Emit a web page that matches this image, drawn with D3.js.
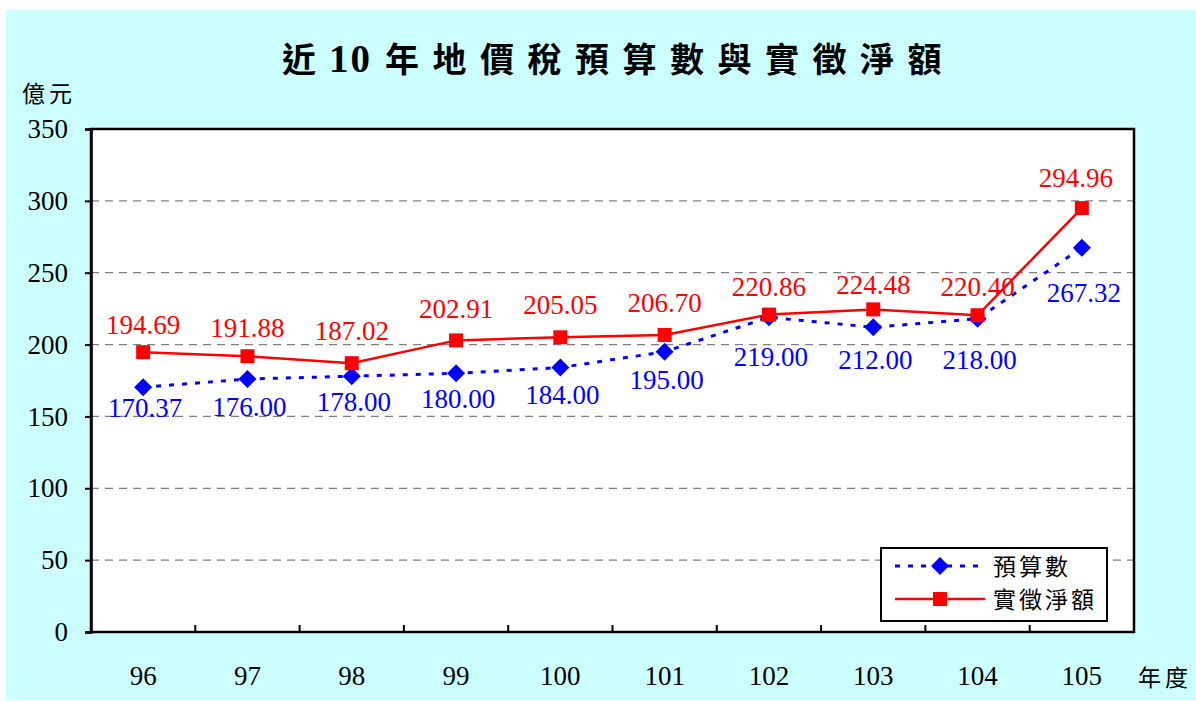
<!DOCTYPE html>
<html><head><meta charset="utf-8">
<script src="https://cdn.jsdelivr.net/npm/d3@7"></script>
<style>html,body{margin:0;padding:0;background:#fff;}svg{display:block;}</style>
</head><body>
<svg id="c" width="1196" height="702"></svg>
<script>
const years = ["96","97","98","99","100","101","102","103","104","105"];
const budget = [170.37,176.00,178.00,180.00,184.00,195.00,219.00,212.00,218.00,267.32];
const actual = [194.69,191.88,187.02,202.91,205.05,206.70,220.86,224.48,220.40,294.96];
const yTicks = [0,50,100,150,200,250,300,350];
const seriesNames = ["預算數","實徵淨額"];
const titleParts = ["近", "10", "年地價稅預算數與實徵淨額"];

// label layout (vertical offsets of label centres from markers, px)
const budgetLabelDy = [21,28,26,26,28,28,40,33,41,45];
const actualLabelDy = [-27,-28,-32,-31,-32,-32,-28,-24,-28,-30];

const svg = d3.select("#c");
const serif = "'Liberation Serif','Times New Roman',serif";
const cjk = "'Noto Sans CJK TC','Noto Sans CJK SC',sans-serif";
const FS = 27;

svg.append("rect").attr("x",6).attr("y",10).attr("width",1190).attr("height",690).attr("fill","#CCFFFF");

const L=91,R=1134,T=129,B=632;
const x = d3.scaleBand().domain(years).range([L,R]);
const y = d3.scaleLinear().domain([0,350]).range([B,T]);
const cx = d => x(d)+x.bandwidth()/2;

svg.append("rect").attr("x",L).attr("y",T).attr("width",R-L).attr("height",B-T).attr("fill","#fff");

// grid
svg.append("g").selectAll("line").data(yTicks.filter(v=>v>0&&v<350)).join("line")
  .attr("x1",L).attr("x2",R).attr("y1",d=>y(d)).attr("y2",d=>y(d))
  .attr("stroke","#808080").attr("stroke-width",1.3).attr("stroke-dasharray","8,6");

// border
svg.append("rect").attr("x",L).attr("y",T).attr("width",R-L).attr("height",B-T).attr("fill","none").attr("stroke","#000").attr("stroke-width",2.5);

// y axis
const ya = svg.append("g").attr("transform",`translate(${L},0)`)
  .call(d3.axisLeft(y).tickValues(yTicks).tickSize(6).tickPadding(17));
ya.select(".domain").attr("stroke","#000").attr("stroke-width",2.5);
ya.selectAll(".tick line").attr("stroke","#000").attr("stroke-width",2);
ya.selectAll("text").attr("font-family",serif).attr("font-size",FS).attr("fill","#000");

// x axis
const xa = svg.append("g").attr("transform",`translate(0,${B})`)
  .call(d3.axisBottom(x).tickSize(0).tickPadding(34));
xa.select(".domain").remove();
xa.selectAll("text").attr("font-family",serif).attr("font-size",FS).attr("fill","#000");
svg.append("g").selectAll("line").data(years.slice(1)).join("line")
  .attr("x1",d=>x(d)).attr("x2",d=>x(d)).attr("y1",B).attr("y2",B-7)
  .attr("stroke","#000").attr("stroke-width",2);

// lines
const line = vals => d3.line().x((d,i)=>cx(years[i])).y(d=>y(d))(vals);
svg.append("path").attr("d",line(budget)).attr("fill","none").attr("stroke","#0000FF").attr("stroke-width",3).attr("stroke-dasharray","5,8");
svg.append("path").attr("d",line(actual)).attr("fill","none").attr("stroke","#FF0000").attr("stroke-width",2.5);

svg.append("g").selectAll("path").data(budget).join("path")
  .attr("d","M0,-9L9,0L0,9L-9,0Z")
  .attr("transform",(d,i)=>`translate(${cx(years[i])},${y(d)})`).attr("fill","#0000FF");
svg.append("g").selectAll("rect").data(actual).join("rect")
  .attr("x",(d,i)=>cx(years[i])-7).attr("y",d=>y(d)-7).attr("width",14).attr("height",14).attr("fill","#FF0000");

// labels
svg.append("g").selectAll("text").data(actual).join("text")
  .attr("x",(d,i)=>cx(years[i])-(i===9?6:0)).attr("y",(d,i)=>y(d)+actualLabelDy[i]).attr("dy","0.33em")
  .attr("text-anchor","middle").attr("font-family",serif).attr("font-size",FS).attr("fill","#FF0000")
  .text(d=>d.toFixed(2));
svg.append("g").selectAll("text").data(budget).join("text")
  .attr("x",(d,i)=>cx(years[i])+2).attr("y",(d,i)=>y(d)+budgetLabelDy[i]).attr("dy","0.33em")
  .attr("text-anchor","middle").attr("font-family",serif).attr("font-size",FS).attr("fill","#0000FF")
  .text(d=>d.toFixed(2));

// title
const tt = svg.append("text").attr("x",282).attr("y",72)
  .attr("font-weight","bold").attr("fill","#000");
tt.append("tspan").attr("font-family",cjk).attr("font-size",34).attr("letter-spacing",13).text(titleParts[0]);
tt.append("tspan").attr("font-family",serif).attr("font-size",39).attr("letter-spacing",2).text(titleParts[1]);
tt.append("tspan").attr("dx",13).attr("font-family",cjk).attr("font-size",34).attr("letter-spacing",13.5).text(titleParts[2]);

svg.append("text").attr("x",22).attr("y",102).attr("font-family",cjk).attr("font-size",23).attr("letter-spacing",4).attr("fill","#000").text("億元");
svg.append("text").attr("x",1138).attr("y",686).attr("font-family",cjk).attr("font-size",23).attr("letter-spacing",4).attr("fill","#000").text("年度");

// legend
const lg = svg.append("g");
lg.append("rect").attr("x",881).attr("y",548).attr("width",226).attr("height",73).attr("fill","#fff").attr("stroke","#000").attr("stroke-width",2);
lg.append("line").attr("x1",895).attr("x2",985).attr("y1",566).attr("y2",566).attr("stroke","#0000FF").attr("stroke-width",3).attr("stroke-dasharray","5,8");
lg.append("path").attr("d","M0,-9L9,0L0,9L-9,0Z").attr("transform","translate(940,566)").attr("fill","#0000FF");
lg.append("line").attr("x1",895).attr("x2",985).attr("y1",599).attr("y2",599).attr("stroke","#FF0000").attr("stroke-width",2.5);
lg.append("rect").attr("x",933).attr("y",592).attr("width",14).attr("height",14).attr("fill","#FF0000");
lg.selectAll("text.l").data(seriesNames).join("text")
  .attr("x",993).attr("y",(d,i)=>575+i*33).attr("font-family",cjk).attr("font-size",23).attr("letter-spacing",3).attr("fill","#000").text(d=>d);
</script>
</body></html>
